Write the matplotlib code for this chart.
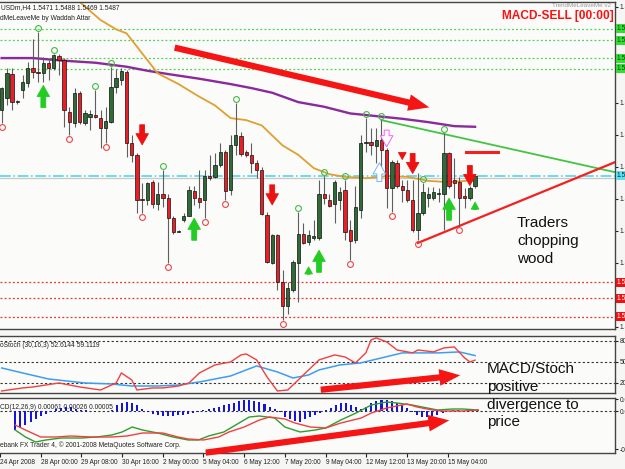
import matplotlib
matplotlib.use('Agg')
import matplotlib.pyplot as plt
from matplotlib.patches import FancyArrowPatch
import numpy as np

plt.rcParams['font.family'] = ['Liberation Sans', 'DejaVu Sans']

W, H = 625, 469

# EURUSD H4 candles
opens = [1.5585, 1.5603, 1.5639, 1.5599, 1.5615, 1.5626, 1.5648, 1.5642, 1.5641, 1.5656,
         1.5648, 1.5666, 1.5660, 1.5582, 1.5566, 1.5611, 1.5566, 1.5575, 1.5578, 1.5573,
         1.5558, 1.5567, 1.5620, 1.5630, 1.5642, 1.5536, 1.5518, 1.5452, 1.5450, 1.5477,
         1.5444, 1.5460, 1.5454, 1.5423, 1.5403, 1.5420, 1.5427, 1.5464, 1.5454, 1.5450,
         1.5486, 1.5485, 1.5503, 1.5522, 1.5465, 1.5533, 1.5546, 1.5522, 1.5518, 1.5506,
         1.5495, 1.5428, 1.5356, 1.5398, 1.5327, 1.5292, 1.5315, 1.5356, 1.5399, 1.5387,
         1.5394, 1.5393, 1.5460, 1.5451, 1.5444, 1.5450, 1.5465, 1.5405, 1.5390, 1.5435,
         1.5536, 1.5537, 1.5531, 1.5540, 1.5525, 1.5468, 1.5506, 1.5472, 1.5465, 1.5450,
         1.5405, 1.5431, 1.5453, 1.5453, 1.5460, 1.5460, 1.5521, 1.5481, 1.5477, 1.5457,
         1.5453, 1.5471]
highs = [1.5620, 1.5648, 1.5648, 1.5600, 1.5638, 1.5657, 1.5692, 1.5702, 1.5665, 1.5660,
         1.5669, 1.5669, 1.5663, 1.5590, 1.5618, 1.5614, 1.5585, 1.5585, 1.5615, 1.5585,
         1.5590, 1.5650, 1.5647, 1.5648, 1.5645, 1.5548, 1.5521, 1.5476, 1.5477, 1.5480,
         1.5477, 1.5495, 1.5460, 1.5427, 1.5405, 1.5431, 1.5472, 1.5472, 1.5495, 1.5495,
         1.5518, 1.5521, 1.5536, 1.5525, 1.5548, 1.5596, 1.5552, 1.5525, 1.5536, 1.5510,
         1.5500, 1.5432, 1.5400, 1.5400, 1.5345, 1.5327, 1.5360, 1.5432, 1.5416, 1.5405,
         1.5420, 1.5480, 1.5486, 1.5460, 1.5480, 1.5470, 1.5480, 1.5420, 1.5472, 1.5548,
         1.5573, 1.5558, 1.5558, 1.5570, 1.5528, 1.5510, 1.5510, 1.5480, 1.5480, 1.5480,
         1.5491, 1.5476, 1.5470, 1.5470, 1.5468, 1.5550, 1.5522, 1.5513, 1.5485, 1.5468,
         1.5472, 1.5488]
lows = [1.5566, 1.5593, 1.5585, 1.5594, 1.5603, 1.5620, 1.5633, 1.5627, 1.5627, 1.5630,
        1.5645, 1.5638, 1.5560, 1.5548, 1.5560, 1.5564, 1.5563, 1.5555, 1.5573, 1.5528,
        1.5536, 1.5566, 1.5611, 1.5623, 1.5515, 1.5507, 1.5431, 1.5431, 1.5443, 1.5438,
        1.5435, 1.5440, 1.5356, 1.5399, 1.5402, 1.5417, 1.5427, 1.5443, 1.5438, 1.5423,
        1.5480, 1.5483, 1.5500, 1.5450, 1.5458, 1.5518, 1.5516, 1.5515, 1.5491, 1.5483,
        1.5428, 1.5356, 1.5354, 1.5315, 1.5270, 1.5280, 1.5312, 1.5297, 1.5384, 1.5383,
        1.5390, 1.5390, 1.5445, 1.5440, 1.5416, 1.5435, 1.5390, 1.5360, 1.5386, 1.5423,
        1.5522, 1.5518, 1.5506, 1.5495, 1.5438, 1.5432, 1.5469, 1.5447, 1.5447, 1.5402,
        1.5390, 1.5428, 1.5440, 1.5450, 1.5447, 1.5405, 1.5469, 1.5454, 1.5412, 1.5438,
        1.5450, 1.5469]
closes = [1.5618, 1.5641, 1.5597, 1.5597, 1.5627, 1.5648, 1.5642, 1.5641, 1.5656, 1.5648,
          1.5668, 1.5660, 1.5585, 1.5567, 1.5611, 1.5567, 1.5581, 1.5579, 1.5575, 1.5558,
          1.5569, 1.5620, 1.5633, 1.5644, 1.5536, 1.5518, 1.5450, 1.5451, 1.5476, 1.5444,
          1.5460, 1.5453, 1.5423, 1.5402, 1.5404, 1.5427, 1.5465, 1.5454, 1.5447, 1.5486,
          1.5483, 1.5503, 1.5522, 1.5464, 1.5533, 1.5548, 1.5519, 1.5518, 1.5506, 1.5495,
          1.5429, 1.5357, 1.5398, 1.5327, 1.5292, 1.5319, 1.5357, 1.5400, 1.5386, 1.5398,
          1.5396, 1.5460, 1.5453, 1.5442, 1.5477, 1.5462, 1.5402, 1.5389, 1.5440, 1.5536,
          1.5537, 1.5533, 1.5540, 1.5525, 1.5468, 1.5507, 1.5472, 1.5465, 1.5450, 1.5405,
          1.5431, 1.5462, 1.5460, 1.5462, 1.5461, 1.5521, 1.5472, 1.5476, 1.5454, 1.5453,
          1.5468, 1.5487]

date_ticks = [-3, 5, 13, 21, 29, 37, 45, 53, 61, 69, 77, 85]
date_labels = ['24 Apr 2008', '28 Apr 00:00', '29 Apr 08:00', '30 Apr 16:00', '2 May 00:00',
               '5 May 04:00', '6 May 12:00', '7 May 20:00', '9 May 04:00', '12 May 12:00',
               '13 May 20:00', '15 May 04:00']

# moving averages (sampled readings)
purple_idx = [0, 6, 12, 18, 24, 28, 32, 38, 44, 48, 52, 57, 62, 67, 72, 77, 82, 87, 91]
purple_val = [1.5663, 1.5663, 1.5659, 1.5656, 1.5650, 1.5644, 1.5639, 1.5632, 1.5624, 1.5618,
              1.5611, 1.5597, 1.5590, 1.5580, 1.5576, 1.5572, 1.5567, 1.5561, 1.5560]
orange_idx = [12, 15, 19, 22, 24, 27, 30, 34, 38, 41, 44, 47, 50, 54, 57, 60, 63, 66, 70,
              74, 78, 82, 86, 91]
orange_val = [1.5775, 1.5747, 1.5720, 1.5706, 1.5700, 1.5670, 1.5640, 1.5624, 1.5605, 1.5592,
              1.5573, 1.5570, 1.5562, 1.5532, 1.5518, 1.5498, 1.5489, 1.5485, 1.5483, 1.5486,
              1.5485, 1.5479, 1.5477, 1.5480]

# fractals
frac_hi = [7, 10, 18, 21, 31, 45, 57, 62, 66, 70, 73, 81, 85]
frac_lo = [0, 13, 20, 27, 32, 39, 43, 54, 67, 75, 80, 88]

# signal arrows: (bar, tip price)
buy_big = [(8, 1.5622), (37, 1.5423), (61, 1.5375), (86, 1.5453)]
buy_small = [(59, 1.5350), (91, 1.5447)]
sell_big = [(27, 1.5533), (52, 1.5443), (79, 1.5490), (90, 1.5472)]
sell_small = [(77, 1.5511)]

green_levels = [1.5707, 1.5690, 1.5663, 1.5647]
red_levels = [1.5327, 1.5303, 1.5275]
last_close = 1.5487

green_trend = ([73, 117.9], [1.5570, 1.5492])
red_trend = ([80, 117.9], [1.5386, 1.5507])
red_dash = ([89.3, 95.4], [1.5522, 1.5522])

# stochastic
stoch_k_idx = [0, 4, 6, 11, 15, 19, 22, 23, 25, 26, 29, 31, 34, 36, 38, 41, 44, 46, 47, 49,
               51, 53, 55, 57, 59, 61, 64, 66, 68, 70, 71, 72, 74, 76, 79, 80, 83, 85, 87, 89,
               90, 91]
stoch_k = [8.6, 12.9, 14.3, 20, 14.3, 10, 20, 34.3, 24.3, 10, 12.9, 12.9, 15.7, 20, 34.3, 45.7,
           50, 60, 61.4, 52.9, 28.6, 8.6, 10, 24.3, 38.6, 52.9, 60, 57.1, 48.6, 62.9, 81.4, 84.3,
           78.6, 67.1, 62.9, 67.1, 64.3, 70, 71.4, 55.7, 50, 52.6]
stoch_d_idx = [0, 4, 9, 16, 21, 25, 30, 34, 38, 41, 44, 49, 53, 56, 59, 61, 65, 69, 73, 77, 80,
               84, 88, 91]
stoch_d = [41.4, 34.3, 25.7, 20, 18.6, 15.7, 15.7, 17.1, 21.4, 25.7, 30, 44.3, 35.7, 27.1, 31.4,
           38.6, 45.7, 48.6, 55.7, 62.9, 62.9, 62.9, 64.3, 59.1]

# MACD
macd_hist = [-0.00095, -0.00085, -0.0007, -0.00055, -0.0004, -0.00025, -0.00015, -0.00005, 0.0001, 0.00015,
             0.0002, 0.0002, 0.0001, 0.00005, 0.00005, 0.00002, 0.0, -0.00002, 0.0, 0.00005,
             0.0003, 0.0004, 0.00045, 0.0004, 0.0003, 0.0001, -0.00005, -0.00015, -0.0002, -0.00025,
             -0.00025, -0.00025, -0.0002, -0.0002, -0.00015, -0.0001, -0.00005, 0.00005, 0.0001, 0.00015,
             0.0002, 0.0003, 0.00035, 0.0004, 0.0005, 0.00055, 0.00055, 0.0005, 0.00045, 0.00035,
             0.0002, 0.0001, -0.00005, -0.0003, -0.0004, -0.0005, -0.00055, -0.0004, -0.0003, -0.0002,
             -0.0001, 0.00005, 0.00015, 0.0003, 0.0004, 0.0004, 0.0003, 0.0002, 0.0001, 0.0002,
             0.0004, 0.0005, 0.00055, 0.00055, 0.0005, 0.0004, 0.0003, 0.00015, -0.00005, -0.0002,
             -0.0003, -0.0003, -0.00025, -0.0002, -0.0001, 0.0, 0.00005, 0.00005, 0.0, -0.00003,
             0.0, 0.00005]
macd_g_idx = [0, 2, 4, 6, 9, 13, 16, 19, 21, 23, 25, 28, 31, 34, 36, 38, 41, 44, 46, 48, 51, 53,
              56, 59, 61, 64, 67, 70, 73, 75, 78, 80, 83, 86, 88, 91]
macd_g = [-0.00095, -0.0013, -0.00155, -0.00145, -0.00135, -0.00135, -0.0013, -0.0012, -0.00105,
          -0.0008, -0.00095, -0.0011, -0.0013, -0.00145, -0.00145, -0.00125, -0.00105, -0.0006,
          -0.0003, -0.00025, -0.00035, -0.0008, -0.00105, -0.00095, -0.00085, -0.00045, -0.0001,
          0.0003, 0.00045, 0.0004, 0.0003, 0.0002, 0.00005, 0.0001, 0.0001, 0.00005]
macd_r_idx = [0, 2, 5, 8, 11, 15, 19, 22, 25, 29, 32, 34, 37, 40, 42, 45, 48, 50, 53, 55, 58, 61,
              64, 68, 70, 73, 77, 79, 82, 84, 88, 91]
macd_r = [-0.0007, -0.00095, -0.0013, -0.0013, -0.00125, -0.0013, -0.0013, -0.00125, -0.0011,
          -0.0011, -0.0013, -0.0014, -0.00145, -0.0013, -0.00105, -0.0008, -0.00045, -0.0003,
          -0.0004, -0.0006, -0.0008, -0.00085, -0.0006, -0.00035, -0.0001, 0.00015, 0.00035,
          0.0002, 0.00005, 0.0, 0.0, 0.00005]


def fx(x):
    return x / W


def fy(y):
    return 1 - y / H


fig = plt.figure(figsize=(W / 100, H / 100), dpi=100, facecolor='#f6f6f4')
ax = fig.add_axes([0, fy(329), fx(615), 327 / H], facecolor='#fbfbfa')
ax_st = fig.add_axes([0, fy(393), fx(615), 57 / H], facecolor='#fbfbfa')
ax_md = fig.add_axes([0, fy(453), fx(615), 55 / H], facecolor='#fbfbfa')

xlo, xhi = -0.33, 117.9
for a in (ax, ax_st, ax_md):
    a.set_xlim(xlo, xhi)
    a.spines['left'].set_visible(False)
    for s in ('top', 'right', 'bottom'):
        a.spines[s].set_color('#444444')
        a.spines[s].set_linewidth(1.0)
    a.yaxis.tick_right()
    a.tick_params(axis='y', labelsize=4.8, length=2, pad=1.5, colors='#222222')
    a.tick_params(axis='x', bottom=False, labelbottom=False)

# ---- main price panel ----
ymin, ymax = 1.5257, 1.5747
ax.set_ylim(ymin, ymax)
ax.set_yticks([1.5740, 1.5596, 1.5548, 1.5500, 1.5452, 1.5404, 1.5356, 1.5260])
ax.set_yticklabels([f'{v:.4f}' for v in ax.get_yticks()])

for lv in green_levels:
    ax.axhline(lv, color='#4cd44c', lw=0.9, ls=(0, (1.5, 1.8)), zorder=1)
for lv in red_levels:
    ax.axhline(lv, color='#f03030', lw=0.9, ls=(0, (1.5, 1.8)), zorder=1)
ax.axhline(last_close - 0.0003, color='#c8c8c8', lw=0.9, zorder=1)
ax.axhline(last_close, color='#55d5e8', lw=1.2, ls='-.', zorder=1)

ax.plot(purple_idx, purple_val, color='#8a2a9c', lw=1.7, zorder=2)
ax.plot(orange_idx, orange_val, color='#e0a030', lw=1.3, zorder=2)

ax.plot(green_trend[0], green_trend[1], color='#44c444', lw=1.3, zorder=2)
ax.plot(red_trend[0], red_trend[1], color='#f42020', lw=1.6, zorder=2)
ax.plot(red_dash[0], red_dash[1], color='#f42020', lw=2.2, zorder=2)

idx = np.arange(len(closes))
o, h, l, c = map(np.array, (opens, highs, lows, closes))
up = c >= o
ax.vlines(idx, l, h, color='#5e5e5e', lw=0.8, zorder=3)
ax.bar(idx[up], (c - o)[up], bottom=o[up], width=0.64, color='#2f6b34',
       edgecolor='#111111', lw=0.5, zorder=4)
ax.bar(idx[~up], (o - c)[~up], bottom=c[~up], width=0.64, color='#ee1c24',
       edgecolor='#111111', lw=0.5, zorder=4)

ax.plot(frac_hi, h[frac_hi] + 0.0006, 'o', mfc='none', mec='#44bb44', ms=4.2, mew=0.8, zorder=5)
ax.plot(frac_lo, l[frac_lo] - 0.0006, 'o', mfc='none', mec='#ee4444', ms=4.2, mew=0.8, zorder=5)


def sig_arrow(i, tip, length, color, big, fc=None):
    tail = tip + length
    style = ('simple,head_length=0.8,head_width=0.9,tail_width=0.35' if big
             else 'simple,head_length=0.5,head_width=0.55,tail_width=0.2')
    ax.annotate('', xy=(i, tip), xytext=(i, tail),
                arrowprops=dict(arrowstyle=style, fc=fc or color, ec=color, lw=0.6,
                                shrinkA=0, shrinkB=0, mutation_scale=10), zorder=6)


for i, p in buy_big:
    sig_arrow(i, p, -0.0033, '#22cc22', True)
for i, p in buy_small:
    sig_arrow(i, p, -0.0011, '#22cc22', False)
for i, p in sell_big:
    sig_arrow(i, p, 0.0030, '#ee1111', True)
for i, p in sell_small:
    sig_arrow(i, p, 0.0010, '#ee1111', False)
sig_arrow(74, 1.5530, 0.0025, '#ff44ff', True, fc='white')
sig_arrow(72.6, 1.5506, -0.0028, '#66aaff', True, fc='white')

# ---- stochastic panel ----
ax_st.set_ylim(5.7, 87)
ax_st.set_yticks([80, 50, 20])
for lv in (80, 50, 20):
    ax_st.axhline(lv, color='#333333', lw=0.8, ls=(0, (2, 2)), zorder=1)
ax_st.plot(stoch_d_idx, stoch_d, color='#3c9ef0', lw=1.1)
ax_st.plot(stoch_k_idx, stoch_k, color='#f04040', lw=1.0)

# ---- MACD panel ----
ax_md.set_ylim(-0.0021, 0.00065)
ax_md.set_yticks([0.0006, 0.0, -0.0019])
ax_md.set_yticklabels(['0.0006', '0.0000', '-0.0019'])
ax_md.axhline(0, color='#333333', lw=0.8, ls=(0, (2, 2)), zorder=1)
ax_md.bar(idx, macd_hist, width=0.4, color='#1414e0', zorder=2)
ax_md.plot(macd_g_idx, macd_g, color='#2e9e2e', lw=1.0, zorder=3)
ax_md.plot(macd_r_idx, macd_r, color='#f04040', lw=1.0, zorder=3)
ax_md.set_xticks(date_ticks)
ax_md.tick_params(axis='x', bottom=True, labelbottom=True, length=3, width=0.8,
                  labelsize=4.7, pad=1.5, colors='#222222')
ax_md.set_xticklabels(date_labels, ha='left')

# ---- texts ----
small = dict(fontsize=4.8, color='#222222', va='center')
fig.text(fx(1), fy(8), 'USDm,H4 1.5471 1.5488 1.5469 1.5487', **small)
fig.text(fx(0), fy(19), 'dMeLeaveMe by Waddah Attar', **small)
fig.text(fx(0), fy(345), 'oStoch (30,16,3) 52.6144 59.1119', **small)
fig.text(fx(0), fy(407), 'CD(12,26,9) 0.00061 0.00026 0.00005', **small)
fig.text(fx(0), fy(445), 'ebank FX Trader 4, \u00a9 2001-2008 MetaQuotes Software Corp.', **small)
fig.text(fx(552), fy(5.5), 'TrendMeLeaveMe v2', fontsize=4.5, color='#999999', va='center')
fig.text(fx(614), fy(16.5), 'MACD-SELL [00:00]', fontsize=8.6, fontweight='bold',
         color='#ff1010', ha='right', va='center')

big = dict(fontsize=11, color='#111111', va='baseline')
for txt, yb in (('Traders', 227), ('chopping', 245), ('wood', 263)):
    fig.text(fx(517), fy(yb), txt, **big)
for txt, yb in (('MACD/Stoch', 373), ('positive', 391), ('divergence to', 409), ('price', 426)):
    fig.text(fx(487), fy(yb), txt, **big)

# right-edge price boxes
box = dict(fontsize=4.8, va='center', ha='left')


def price_px(v):
    return 2 + (ymax - v) / (ymax - ymin) * 327


for lv in green_levels:
    fig.text(fx(617), fy(price_px(lv)), f'{lv:.4f}', color='#114411',
             bbox=dict(boxstyle='square,pad=0.15', fc='#33dd33', ec='none'), **box)
for lv in red_levels:
    fig.text(fx(617), fy(price_px(lv)), f'{lv:.4f}', color='white',
             bbox=dict(boxstyle='square,pad=0.15', fc='#ee1111', ec='none'), **box)
fig.text(fx(617), fy(price_px(last_close)), f'{last_close:.4f}', color='#003344',
         bbox=dict(boxstyle='square,pad=0.15', fc='#5fe0ee', ec='none'), **box)

# big annotation arrows
for (x0, y0), (x1, y1) in (((172, 47), (432, 108)), ((318, 390), (463, 375)),
                           ((203, 453), (452, 420))):
    fig.add_artist(FancyArrowPatch(
        (fx(x0), fy(y0)), (fx(x1), fy(y1)), transform=fig.transFigure,
        arrowstyle='simple,head_length=1.5,head_width=1.2,tail_width=0.45',
        mutation_scale=10, color='#f51515', lw=0, zorder=10))

fig.savefig('out.png', dpi=100, facecolor=fig.get_facecolor())
